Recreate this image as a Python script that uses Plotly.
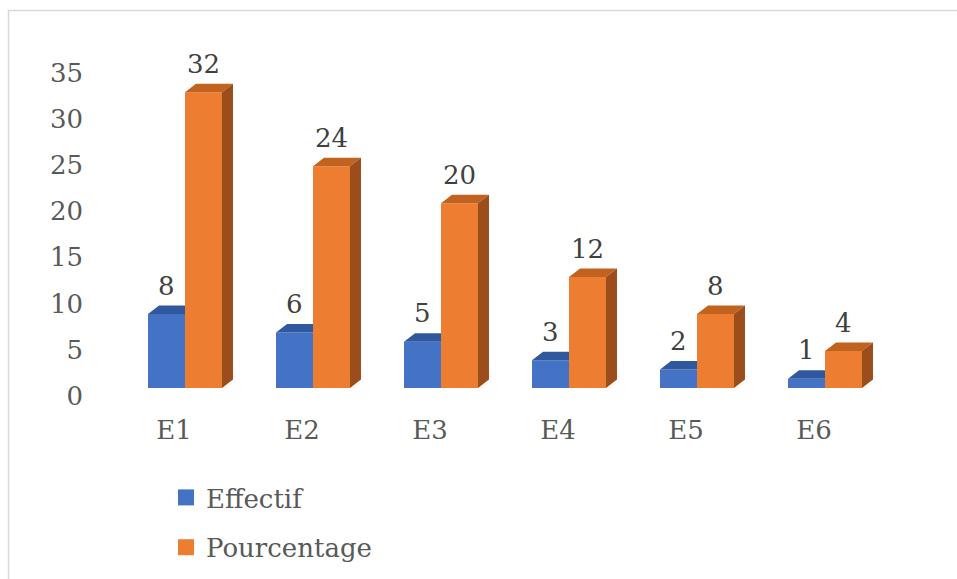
import plotly.graph_objects as go

categories = ["E1", "E2", "E3", "E4", "E5", "E6"]
effectif = [8, 6, 5, 3, 2, 1]
pourcentage = [32, 24, 20, 12, 8, 4]
y_ticks = [0, 5, 10, 15, 20, 25, 30, 35]

# styling / geometry constants
W, H = 957, 579
ML, MR, MT, MB = 121, 68, 46, 191
PLOT_W = W - ML - MR
PLOT_H = H - MT - MB
YMAX = 37.0
BW = 0.289                       # bar width (category units)
DX = 11 / (PLOT_W / 6)           # 3D depth horizontally (category units)
DY = 8.5 / (PLOT_H / YMAX)       # 3D depth vertically (value units)

BLUE, BLUE_TOP = "#4472C4", "#30589F"
ORANGE, ORANGE_TOP, ORANGE_SIDE = "#ED7D31", "#C2621F", "#9B4D1C"
FONT = "DejaVu Serif, serif"
FS = 26
AXIS_COL = "#595959"
LABEL_COL = "#404040"

xs = list(range(len(categories)))
fig = go.Figure()

# front faces
fig.add_trace(go.Bar(x=xs, y=effectif, width=BW, offset=-BW, marker=dict(color=BLUE, line=dict(width=0)),
                     showlegend=False, hoverinfo="skip"))
fig.add_trace(go.Bar(x=xs, y=pourcentage, width=BW, offset=0, marker=dict(color=ORANGE, line=dict(width=0)),
                     showlegend=False, hoverinfo="skip"))

# 3D faces built from the data
for i, (b, v) in enumerate(zip(effectif, pourcentage)):
    fig.add_trace(go.Scatter(
        x=[i - BW, i - BW + DX, i, i, i - BW],
        y=[b, b + DY, b + DY, b, b],
        fill="toself", fillcolor=BLUE_TOP, mode="lines", line=dict(width=0),
        showlegend=False, hoverinfo="skip"))
    fig.add_trace(go.Scatter(
        x=[i, i + DX, i + BW + DX, i + BW, i],
        y=[v, v + DY, v + DY, v, v],
        fill="toself", fillcolor=ORANGE_TOP, mode="lines", line=dict(width=0),
        showlegend=False, hoverinfo="skip"))
    fig.add_trace(go.Scatter(
        x=[i + BW, i + BW + DX, i + BW + DX, i + BW, i + BW],
        y=[0, DY, v + DY, v, 0],
        fill="toself", fillcolor=ORANGE_SIDE, mode="lines", line=dict(width=0),
        showlegend=False, hoverinfo="skip"))

# data labels
for i, (b, v) in enumerate(zip(effectif, pourcentage)):
    for val, cx in ((b, i - BW / 2), (v, i + BW / 2)):
        fig.add_annotation(x=cx, y=val + DY, text=str(val), showarrow=False,
                           xanchor="center", yanchor="bottom", yshift=3,
                           font=dict(family=FONT, size=FS, color=LABEL_COL))

# legend entries
fig.add_trace(go.Scatter(x=[None], y=[None], mode="markers", name="Effectif", legendgroup="a",
                         marker=dict(symbol="square", size=16, color=BLUE)))
fig.add_trace(go.Scatter(x=[None], y=[None], mode="markers", name="Pourcentage", legendgroup="b",
                         marker=dict(symbol="square", size=16, color=ORANGE)))

def px_x(p):
    return (p - ML) / PLOT_W

def px_y(p):
    return (MT + PLOT_H - p) / PLOT_H

fig.add_shape(type="rect", xref="paper", yref="paper",
              x0=px_x(8.5), x1=px_x(975), y0=px_y(10.5), y1=px_y(600),
              line=dict(color="#D9D9D9", width=1.5), fillcolor="rgba(0,0,0,0)", layer="below")

fig.update_layout(
    template="none",
    width=W, height=H, autosize=False,
    margin=dict(l=ML, r=MR, t=MT, b=MB, pad=0, autoexpand=False),
    paper_bgcolor="white", plot_bgcolor="white",
    barmode="overlay",
    font=dict(family=FONT, size=FS, color=AXIS_COL),
    xaxis=dict(range=[-0.5, 5.5], tickvals=xs, ticktext=categories, showgrid=False, zeroline=False,
               showline=False, ticks="", ticklabelshift=-11, ticklabelstandoff=24, automargin=False,
               tickfont=dict(family=FONT, size=FS, color=AXIS_COL), fixedrange=True),
    yaxis=dict(range=[0, YMAX], tickvals=y_ticks, showgrid=False, zeroline=False, showline=False,
               ticks="", ticklabelshift=8, ticklabelstandoff=37, automargin=False,
               tickfont=dict(family=FONT, size=FS, color=AXIS_COL), fixedrange=True),
    legend=dict(orientation="v", xref="container", yref="container",
                x=166 / W, y=1 - 474 / H, xanchor="left", yanchor="top",
                font=dict(family=FONT, size=FS, color=AXIS_COL), tracegroupgap=13,
                bgcolor="rgba(0,0,0,0)"),
    showlegend=True,
)

fig.write_html("out.html")
